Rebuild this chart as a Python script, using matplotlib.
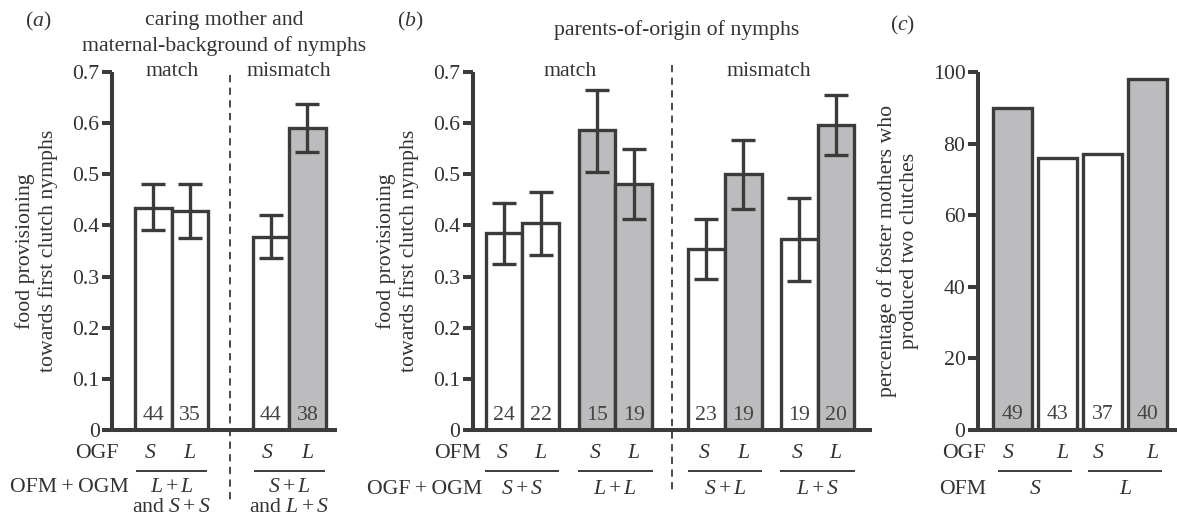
import matplotlib
matplotlib.use("Agg")
import matplotlib.pyplot as plt
from matplotlib.transforms import blended_transform_factory as btf

plt.rcParams['font.family'] = ['Liberation Serif', 'DejaVu Serif']
plt.rcParams['mathtext.fontset'] = 'custom'
plt.rcParams['mathtext.rm'] = 'Liberation Serif'
plt.rcParams['mathtext.it'] = 'Liberation Serif:italic'

# ---------------- data ----------------
# panel a
a_vals = [0.435, 0.428, 0.378, 0.591]
a_lo = [0.391, 0.375, 0.337, 0.544]
a_hi = [0.481, 0.481, 0.420, 0.638]
a_n = [44, 35, 44, 38]
a_gray = [False, False, False, True]
a_ogf = ['S', 'L', 'S', 'L']

# panel b
b_vals = [0.385, 0.405, 0.586, 0.481, 0.354, 0.501, 0.373, 0.597]
b_lo = [0.325, 0.343, 0.505, 0.412, 0.295, 0.432, 0.292, 0.538]
b_hi = [0.443, 0.465, 0.665, 0.550, 0.413, 0.567, 0.453, 0.655]
b_n = [24, 22, 15, 19, 23, 19, 19, 20]
b_gray = [False, False, True, True, False, True, False, True]
b_ofm = ['S', 'L', 'S', 'L', 'S', 'L', 'S', 'L']
b_groups = ['S+S', 'L+L', 'S+L', 'L+S']

# panel c
c_vals = [90, 76, 77, 98]
c_n = [49, 43, 37, 40]
c_gray = [True, False, False, True]
c_ogf = ['S', 'L', 'S', 'L']
c_ofm = ['S', 'L']

# ---------------- style ----------------
W, H = 1177, 517
EC = '#3b3b3b'
GRAY = '#bcbcbe'
TC = '#333333'
FS = 15.7
LW = 2.4

fig = plt.figure(figsize=(W / 100, H / 100), dpi=100)


def fy(py):
    return 1 - py / H


def fx(px):
    return px / W


def make_ax(left, right, ylim, yticks, yticklabels):
    ax = fig.add_axes([fx(left), fy(430), (right - left) / W, 358 / H])
    ax.set_ylim(*ylim)
    ax.set_yticks(yticks)
    ax.set_yticklabels(yticklabels, fontsize=FS, color=TC)
    ax.set_xticks([])
    for s in ['top', 'right']:
        ax.spines[s].set_visible(False)
    for s in ['left', 'bottom']:
        ax.spines[s].set_linewidth(LW + 0.5)
        ax.spines[s].set_color(EC)
        ax.spines[s].set_capstyle('butt')
    ax.tick_params(axis='y', length=7, width=LW + 0.5, color=EC, pad=2)
    ax.patch.set_alpha(0)
    return ax


def draw_bars(ax, pos, vals, gray, width, n, npos, lo=None, hi=None):
    cols = [GRAY if g else 'white' for g in gray]
    ax.bar(pos, vals, width=width, color=cols, edgecolor=EC, linewidth=LW, zorder=2)
    if lo is not None:
        yerr = [[v - l for v, l in zip(vals, lo)], [h - v for v, h in zip(vals, hi)]]
        ax.errorbar(pos, vals, yerr=yerr, fmt='none', ecolor=EC, elinewidth=LW,
                    capsize=8.5, capthick=LW, zorder=3)
    for p, k, g in zip(pos, n, gray):
        ax.text(p, npos, str(k), ha='center', va='center', fontsize=FS,
                color='#444444', zorder=4)


def it(s):
    return '$' + s + '$'


def ylab(ax, text):
    ax.set_ylabel(text, fontsize=FS, color=TC, linespacing=1.2, labelpad=10)


# ---------------- panel a ----------------
axa = make_ax(112, 337, (0, 0.7), [0, .1, .2, .3, .4, .5, .6, .7],
              ['0', '0.1', '0.2', '0.3', '0.4', '0.5', '0.6', '0.7'])
a_pos = [1, 2, 4.22, 5.22]
axa.set_xlim(-0.137, 6.03)
draw_bars(axa, a_pos, a_vals, a_gray, 1.0, a_n, 0.029, a_lo, a_hi)
ylab(axa, 'food provisioning\ntowards first clutch nymphs')
ta = btf(axa.transData, fig.transFigure)
axa.plot([3.1, 3.1], [fy(75), fy(500)], transform=ta, ls=(0, (4, 3)),
         color=EC, lw=1.3, clip_on=False)
axa.text(1.5, fy(72), 'match', transform=ta, ha='center', va='center', fontsize=FS, color=TC)
axa.text(4.72, fy(72), 'mismatch', transform=ta, ha='center', va='center', fontsize=FS, color=TC)
for p, s in zip(a_pos, a_ogf):
    axa.text(p - 0.1 if s == 'S' else p, fy(453), it(s), transform=ta, ha='center',
             va='center', fontsize=FS, color=TC)
for c, top, bot in [(1.5, 'L+L', 'and $S+S$'), (4.72, 'S+L', 'and $L+S$')]:
    axa.plot([c - 0.95, c + 0.95], [fy(471), fy(471)], transform=ta, color=EC,
             lw=1.4, clip_on=False)
    axa.text(c, fy(487), it(top), transform=ta, ha='center', va='center', fontsize=FS, color=TC)
    axa.text(c, fy(508), bot, transform=ta, ha='center', va='center', fontsize=FS, color=TC)
fig.text(fx(119), fy(453), 'OGF', ha='right', va='center', fontsize=FS, color=TC)
fig.text(fx(129), fy(487), 'OFM\u2009+\u2009OGM', ha='right', va='center', fontsize=FS, color=TC)
fig.text(fx(38), fy(21), '(' + it('a') + ')', ha='center', va='center', fontsize=FS, color=TC)
fig.text(fx(224), fy(21), 'caring mother and', ha='center', va='center', fontsize=FS, color=TC)
fig.text(fx(224), fy(46), 'maternal-background of nymphs', ha='center', va='center',
         fontsize=FS, color=TC)

# ---------------- panel b ----------------
axb = make_ax(473, 872, (0, 0.7), [0, .1, .2, .3, .4, .5, .6, .7],
              ['0', '0.1', '0.2', '0.3', '0.4', '0.5', '0.6', '0.7'])
b_pos = [1, 2, 3.53, 4.53, 6.5, 7.5, 9.02, 10.02]
axb.set_xlim(0.16, 11.0)
draw_bars(axb, b_pos, b_vals, b_gray, 1.0, b_n, 0.029, b_lo, b_hi)
ylab(axb, 'food provisioning\ntowards first clutch nymphs')
tb = btf(axb.transData, fig.transFigure)
axb.plot([5.56, 5.56], [fy(65), fy(492)], transform=tb, ls=(0, (4, 3)),
         color=EC, lw=1.3, clip_on=False)
axb.text(2.8, fy(72), 'match', transform=tb, ha='center', va='center', fontsize=FS, color=TC)
axb.text(8.2, fy(72), 'mismatch', transform=tb, ha='center', va='center', fontsize=FS, color=TC)
for p, s in zip(b_pos, b_ofm):
    axb.text(p - 0.05 if s == 'S' else p, fy(453), it(s), transform=tb, ha='center',
             va='center', fontsize=FS, color=TC)
for i, g in enumerate(b_groups):
    c = (b_pos[2 * i] + b_pos[2 * i + 1]) / 2
    axb.plot([c - 0.98, c + 0.98], [fy(471), fy(471)], transform=tb, color=EC,
             lw=1.4, clip_on=False)
    axb.text(c, fy(489), it(g), transform=tb, ha='center', va='center', fontsize=FS, color=TC)
fig.text(fx(481), fy(453), 'OFM', ha='right', va='center', fontsize=FS, color=TC)
fig.text(fx(482), fy(489), 'OGF\u2009+\u2009OGM', ha='right', va='center', fontsize=FS, color=TC)
fig.text(fx(410), fy(21), '(' + it('b') + ')', ha='center', va='center', fontsize=FS, color=TC)
fig.text(fx(677), fy(30), 'parents-of-origin of nymphs', ha='center', va='center',
         fontsize=FS, color=TC)

# ---------------- panel c ----------------
axc = make_ax(978, 1177, (0, 100), [0, 20, 40, 60, 80, 100],
              ['0', '20', '40', '60', '80', '100'])
c_pos = [1, 2, 3, 4]
axc.set_xlim(0.23, 4.65)
draw_bars(axc, c_pos, c_vals, c_gray, 0.87, c_n, 4.2)
ylab(axc, 'percentage of foster mothers who\nproduced two clutches')
tc = btf(axc.transData, fig.transFigure)
for p, s in zip(c_pos, c_ogf):
    axc.text(p - 0.1 if s == 'S' else p + 0.1, fy(453), it(s), transform=tc, ha='center',
             va='center', fontsize=FS, color=TC)
for i, g in enumerate(c_ofm):
    c = (c_pos[2 * i] + c_pos[2 * i + 1]) / 2
    axc.plot([c - 0.8, c + 0.8], [fy(471), fy(471)], transform=tc, color=EC,
             lw=1.4, clip_on=False)
    axc.text(c, fy(489), it(g), transform=tc, ha='center', va='center', fontsize=FS, color=TC)
fig.text(fx(986), fy(453), 'OGF', ha='right', va='center', fontsize=FS, color=TC)
fig.text(fx(986), fy(489), 'OFM', ha='right', va='center', fontsize=FS, color=TC)
fig.text(fx(903), fy(25), '(' + it('c') + ')', ha='center', va='center', fontsize=FS, color=TC)

fig.savefig('out.png', dpi=100)
